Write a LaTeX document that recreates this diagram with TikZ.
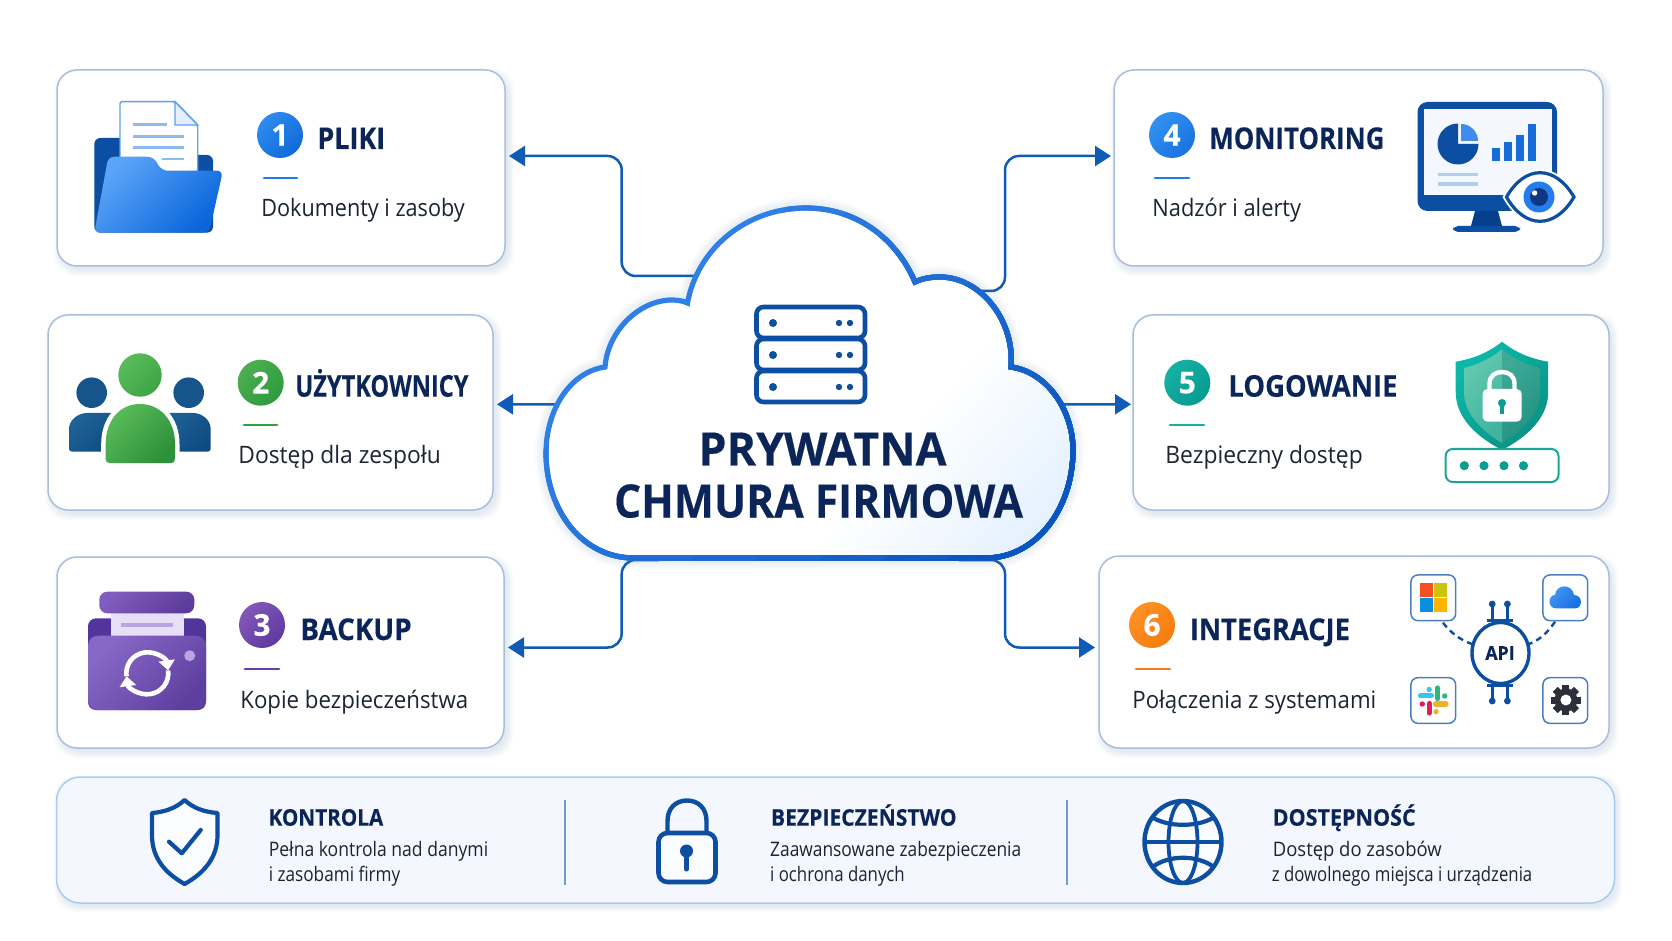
\documentclass[tikz,border=0pt]{standalone}
\usepackage{fontspec}
\usepackage{graphicx}
\setmainfont{Open Sans}[BoldFeatures={FakeBold=0.3}]
\usetikzlibrary{arrows.meta,calc}
\newdimen\pxu \pxu=0.5pt
\newdimen\tpx \tpx=0.506pt
\newcommand{\tw}[2]{\resizebox{#1\tpx}{\height}{#2}}
\definecolor{navy}{HTML}{0B2559}
\definecolor{ink}{HTML}{1B2433}
\definecolor{wire}{HTML}{0F5BB5}
\definecolor{royal}{HTML}{0B4EA2}
\definecolor{cardline}{HTML}{A9BEDC}
\definecolor{shadowc}{HTML}{5F82B5}
\definecolor{cloudA}{HTML}{2F80E6}
\definecolor{cloudB}{HTML}{0A56BE}
\definecolor{cloudE}{HTML}{DFEEFF}
\definecolor{teal}{HTML}{0C9C90}
\definecolor{tile}{HTML}{4A80C0}
\definecolor{paperline}{HTML}{5BA0EE}
\definecolor{fold}{HTML}{E4EEFC}
\definecolor{docline}{HTML}{8DBBF0}
\definecolor{fldA}{HTML}{5BA5F8}
\definecolor{fldB}{HTML}{0B66DC}
\definecolor{b1A}{HTML}{2F8BEF}
\definecolor{b1B}{HTML}{0F6AD8}
\definecolor{rule1}{HTML}{1F7AE2}
\definecolor{usrH}{HTML}{18548C}
\definecolor{usrA}{HTML}{1F6296}
\definecolor{usrB}{HTML}{0E4B82}
\definecolor{grnA}{HTML}{5BBB5A}
\definecolor{grnB}{HTML}{2C913A}
\definecolor{grnC}{HTML}{3CA546}
\definecolor{b2A}{HTML}{4CAF50}
\definecolor{b2B}{HTML}{2E9B3F}
\definecolor{rule2}{HTML}{2EA03F}
\definecolor{prpD}{HTML}{52359A}
\definecolor{prpP}{HTML}{E7DEF7}
\definecolor{prpL}{HTML}{B8A5E2}
\definecolor{lidA}{HTML}{7F5DBE}
\definecolor{lidB}{HTML}{5D3C9E}
\definecolor{frA}{HTML}{8868C6}
\definecolor{frB}{HTML}{5E3FA0}
\definecolor{b3A}{HTML}{8257BA}
\definecolor{b3B}{HTML}{5F3AA0}
\definecolor{rule3}{HTML}{643EAF}
\definecolor{scr}{HTML}{F4F8FE}
\definecolor{stand}{HTML}{06408C}
\definecolor{pieL}{HTML}{3F8CEC}
\definecolor{bars}{HTML}{186CD8}
\definecolor{mline}{HTML}{B0CEF0}
\definecolor{iris}{HTML}{247DEA}
\definecolor{pupil}{HTML}{103882}
\definecolor{b4A}{HTML}{3291F0}
\definecolor{b4B}{HTML}{1973E1}
\definecolor{shA}{HTML}{0AB9AA}
\definecolor{shB}{HTML}{0A9185}
\definecolor{inA}{HTML}{64C8AF}
\definecolor{inB}{HTML}{41B4A0}
\definecolor{inC}{HTML}{3EAA96}
\definecolor{inD}{HTML}{249182}
\definecolor{pwd}{HTML}{1BA596}
\definecolor{b5A}{HTML}{16B0A5}
\definecolor{b5B}{HTML}{079A90}
\definecolor{rule5}{HTML}{14B0A5}
\definecolor{msR}{HTML}{F25022}
\definecolor{msY}{HTML}{CDC30A}
\definecolor{msB}{HTML}{0A8FE0}
\definecolor{msO}{HTML}{FFB400}
\definecolor{icA}{HTML}{469BF5}
\definecolor{icB}{HTML}{196EE1}
\definecolor{slB}{HTML}{36C5F0}
\definecolor{slG}{HTML}{2EB67D}
\definecolor{slR}{HTML}{E01E5A}
\definecolor{slY}{HTML}{ECB22E}
\definecolor{gearc}{HTML}{2A2F3A}
\definecolor{b6A}{HTML}{FF9123}
\definecolor{b6B}{HTML}{F57C10}
\definecolor{rule6}{HTML}{F57C1E}
\definecolor{barline}{HTML}{A8CBF0}
\definecolor{barfill}{HTML}{F4F8FE}
\definecolor{divc}{HTML}{6E9BD4}
\definecolor{icnfill}{HTML}{FAFCFF}
\pgfdeclarehorizontalshading{cloudsh}{100bp}{color(0bp)=(white); color(62bp)=(white); color(84bp)=(cloudE); color(100bp)=(cloudE)}
\def\cloudpath{(634,558) .. controls (582,558) and (546,510) .. (546,453) .. controls (546,410) and (570,372) .. (605,367) .. controls (608,330) and (640,300) .. (672,300) .. controls (678,300) and (683,301) .. (687.5,303) .. controls (697,250) and (745,208) .. (806,208) .. controls (858,208) and (897,240) .. (915,282) .. controls (923,278) and (932,277) .. (940,277) .. controls (980,277) and (1015,320) .. (1011,367) .. controls (1047,372) and (1073,410) .. (1073,450) .. controls (1073,510) and (1035,558) .. (986,558) -- cycle}
\newcommand{\softshadow}[4]{\foreach \i in {0,...,6}{\fill[shadowc,opacity=.022,rounded corners=11pt] (#1-\i+3,#2-\i+4) rectangle (#3+\i+3,#4+\i+4);}}
\tikzset{
  card/.style={draw=cardline,line width=.75pt,fill=white,rounded corners=10pt,inner sep=0pt,outer sep=0pt},
  conn/.style={draw=wire,line width=1.25pt,rounded corners=7pt,-{Triangle[length=8pt,width=10pt]}},
  gr/.style 2 args={top color=#1,bottom color=#2,shading angle=45},
  ttl/.style={anchor=base west,inner sep=0pt,xshift=-1pt,text=navy,font=\fontsize{15}{15}\selectfont\bfseries},
  subt/.style={anchor=base west,inner sep=0pt,xshift=-.5pt,yshift=-.5pt,text=ink,font=\fontsize{12}{12}\selectfont},
  btt/.style={anchor=base west,inner sep=0pt,xshift=-.7pt,text=navy,font=\fontsize{11.5}{11.5}\selectfont\bfseries},
  bsub/.style={anchor=base west,inner sep=0pt,xshift=-.6pt,text=ink,font=\fontsize{10}{10}\selectfont},
  num/.style={inner sep=0pt,text=white,font=\fontsize{15}{15}\selectfont\bfseries},
  rule/.style={line width=1.35pt,line cap=round},
  tilebox/.style={draw=tile,line width=.75pt,fill=white,rounded corners=3.5pt},
  pill/.style={line width=2.6pt,line cap=round},
  big/.style={text=navy,inner sep=0pt,anchor=base,font=\fontsize{23}{23}\selectfont\bfseries},
}
\begin{document}
\begin{tikzpicture}[x=0.5pt,y=-0.5pt]
\useasboundingbox (0,0) rectangle (1672,941);
\fill[white] (0,0) rectangle (1672,941);

% shadows
\softshadow{57}{70}{505}{266}
\softshadow{48}{315}{493}{510}
\softshadow{57}{557}{504}{748}
\softshadow{1114}{70}{1603}{266}
\softshadow{1133}{315}{1609}{510}
\softshadow{1099}{556}{1609}{748}
\softshadow{57}{777}{1613}{902}

% cards
\node[card,minimum width=448\pxu,minimum height=196\pxu] (b1) at (281,168) {};
\node[card,minimum width=445\pxu,minimum height=195\pxu] (b2) at (270.5,412.5) {};
\node[card,minimum width=447\pxu,minimum height=191\pxu] (b3) at (280.5,652.5) {};
\node[card,minimum width=489\pxu,minimum height=196\pxu] (b4) at (1358.5,168) {};
\node[card,minimum width=476\pxu,minimum height=195\pxu] (b5) at (1371,412.5) {};
\node[card,minimum width=510\pxu,minimum height=192\pxu] (b6) at (1354,652) {};
\node[draw=none,inner sep=0pt,minimum width=530\pxu,minimum height=351\pxu] (cloud) at (809,382.5) {};

% connector ends
\coordinate (a1) at ($(b1.east)+(4,-12)$);
\coordinate (a2) at ($(b2.east)+(4,-8.2)$);
\coordinate (a3) at ($(b3.east)+(4,-5)$);
\coordinate (a4) at ($(b4.west)+(-3,-12)$);
\coordinate (a5) at ($(b5.west)+(-2,-8.2)$);
\coordinate (a6) at ($(b6.west)+(-4,-4.5)$);
\coordinate (c1) at ($(cloud.center)+(-105,-106.5)$);
\coordinate (c2) at ($(cloud.center)+(-200,21.8)$);
\coordinate (c3) at ($(cloud.center)+(-150,177.5)$);
\coordinate (c4) at ($(cloud.center)+(165,-91.5)$);
\coordinate (c5) at ($(cloud.center)+(200,21.8)$);
\coordinate (c6) at ($(cloud.center)+(150,177.5)$);
\coordinate (e1) at (621.7,156);
\coordinate (e3) at (621.7,647.5);
\coordinate (e4) at (1005,156);
\coordinate (e6) at (1005,647.5);

% connectors
\draw[conn] (c1) -| (e1) -- (a1);
\draw[conn] (c2) -- (a2);
\draw[conn] (c3) -| (e3) -- (a3);
\draw[conn] (c4) -| (e4) -- (a4);
\draw[conn] (c5) -- (a5);
\draw[conn] (c6) -| (e6) -- (a6);

% cloud
\foreach \w in {22,18,14,10}{\draw[shadowc,opacity=.03,line width=\w\pxu,line join=round] \cloudpath;}
\path[shading=cloudsh,shading angle=-40] \cloudpath;
\foreach \k in {0,...,9}{
  \pgfmathtruncatemacro{\p}{\k*11}
  \pgfmathsetmacro{\s}{930+64*\k}
  \begin{scope}
    \clip (\s-100,100) -- (\s-700,700) -- (1900,700) -- (1900,100) -- cycle;
    \draw[cloudB!\p!cloudA,line width=2.6pt,line join=miter] \cloudpath;
  \end{scope}
}
% server
\foreach \yy in {305,337,369}{
  \draw[royal,line width=2.3pt,fill=white,rounded corners=3.5pt] (756.5,\yy+2) rectangle (865,\yy+33);
  \fill[royal] (773,\yy+18) circle[radius=4];
  \fill[royal] (839,\yy+18) circle[radius=3.2];
  \fill[royal] (850,\yy+18) circle[radius=3.2];
}
\node[big] (title1) at (822.5,465.5) {\tw{245}{PRYWATNA}};
\node[big] (title2) at (818.5,517.5) {\tw{404}{CHMURA FIRMOWA}};

% ---------- Card 1: folder
\fill[royal,rounded corners=3pt] (94.3,232.7) -- (94.3,138) -- (130,138) -- (130,155) -- (213,155) -- (213,232.7) -- cycle;
\draw[paperline,line width=.7pt,fill=white,rounded corners=1pt] (120,172) -- (120,101.7) -- (175,101.7) -- (197.7,125) -- (197.7,172) -- cycle;
\draw[paperline,line width=.7pt,fill=fold] (175,101.7) -- (197.7,125) -- (175,125) -- cycle;
\foreach \xa/\xb/\yy in {133.3/166.7/124.3,133/184.3/136.7,133/184.3/147.7,161.7/184.3/159}{
  \draw[docline,line width=1.3pt] (\xa,\yy) -- (\xb,\yy);
}
\path[gr={fldA}{fldB},rounded corners=3pt] (94.3,232.7) -- (108.3,156.7) -- (153.3,156.7) -- (161.7,170.7) -- (223,170.7) -- (209,232.7) -- cycle;
\path[gr={b1A}{b1B}] (280,135) circle[radius=23];
\node[num] (n1) at (280,135) {1};
\node[ttl] (t1) at (319,149) {\tw{67}{PLIKI}};
\draw[rule,rule1] (264,178) -- (297,178);
\node[subt] (s1) at (262,215.7) {\tw{201}{Dokumenty i zasoby}};

% ---------- Card 2: users
\fill[usrH] (91.7,392.7) circle[radius=15.3];
\fill[usrH] (188.7,392.7) circle[radius=15.3];
\path[gr={usrA}{usrB},rounded corners=1.5pt] (69,451.7) -- (69,432) .. controls (69,420) and (78,413) .. (90,413) -- (120,413) -- (120,451.7) -- cycle;
\path[gr={usrA}{usrB},rounded corners=1.5pt] (210.7,451.7) -- (210.7,432) .. controls (210.7,420) and (202,413) .. (190,413) -- (160,413) -- (160,451.7) -- cycle;
\draw[white,line width=4.5pt,fill=white] (105.7,459) -- (105.7,444) .. controls (105.7,420) and (120,404) .. (140,404) .. controls (160,404) and (175,420) .. (175,444) -- (175,463) -- (105.7,463) -- cycle;
\path[gr={grnA}{grnB}] (105.7,459) -- (105.7,444) .. controls (105.7,420) and (120,404) .. (140,404) .. controls (160,404) and (175,420) .. (175,444) -- (175,459) .. controls (175,462) and (173,463) .. (171,463) -- (110,463) .. controls (107,463) and (105.7,462) .. (105.7,459) -- cycle;
\path[gr={grnA}{grnC}] (140,375) circle[radius=21.7];
\path[gr={b2A}{b2B}] (260.7,382.7) circle[radius=23];
\node[num] (n2) at (260.7,382.7) {2};
\node[ttl] (t2) at (297,396.7) {\tw{171}{UŻYTKOWNICY}};
\draw[rule,rule2] (244,425) -- (277,425);
\node[subt] (s2) at (239,463) {\tw{200}{Dostęp dla zespołu}};

% ---------- Card 3: backup box
\fill[prpD,rounded corners=4pt] (88,710) -- (88,618.3) -- (206,618.3) -- (206,710) -- cycle;
\fill[prpP] (110.7,612) rectangle (184.3,640);
\fill[prpL] (120.7,622.7) rectangle (172.7,627);
\path[gr={lidA}{lidB},rounded corners=4pt] (99.3,613.3) -- (99.3,591.7) -- (194.3,591.7) -- (194.3,613.3) -- cycle;
\path[gr={frA}{frB},rounded corners=5pt] (88,710) -- (88,635.7) -- (206,635.7) -- (206,710) -- cycle;
\fill[prpL] (189.7,655.7) circle[radius=5.5];
\draw[white,line width=2.3pt,-{Triangle[length=5pt,width=8pt]}] ($(147.3,673.3)+(172:21)$) arc[start angle=172,end angle=352,radius=21];
\draw[white,line width=2.3pt,-{Triangle[length=5pt,width=8pt]}] ($(147.3,673.3)+(-8:21)$) arc[start angle=-8,end angle=172,radius=21];
\path[gr={b3A}{b3B}] (262,625) circle[radius=23];
\node[num] (n3) at (262,625) {3};
\node[ttl] (t3) at (302,640) {\tw{110}{BACKUP}};
\draw[rule,rule3] (245,669) -- (279,669);
\node[subt] (s3) at (241,707) {\tw{225}{Kopie bezpieczeństwa}};

% ---------- Card 4: monitor
\fill[royal,rounded corners=5pt] (1417.5,102) rectangle (1557,211);
\fill[scr] (1424,109) rectangle (1552,195);
\fill[stand] (1475,211) -- (1498,211) -- (1502,226) -- (1471,226) -- cycle;
\fill[royal,rounded corners=2.5pt] (1453,226) rectangle (1520,232);
\fill[royal] (1458,144) -- (1478.5,144) arc[start angle=0,end angle=270,radius=20.5] -- cycle;
\fill[pieL] (1461,141) -- (1461,124) arc[start angle=270,end angle=360,radius=17] -- cycle;
\foreach \xa/\xb/\yt in {1491.5/1499.5/147.7,1503.6/1511.5/141.7,1516/1523.6/134.7,1528/1536/124.3}{
  \fill[bars] (\xa,\yt) rectangle (\xb,161);
}
\foreach \yy in {174.7,184}{\draw[mline,line width=1.7pt] (1437.5,\yy) -- (1478,\yy);}
\draw[white,line width=3.5pt,fill=white] (1506.5,197) .. controls (1525,164.6) and (1555,164.6) .. (1574,197) .. controls (1555,229.4) and (1525,229.4) .. (1506.5,197) -- cycle;
\draw[royal,line width=1.6pt,fill=white] (1506.5,197) .. controls (1525,164.6) and (1555,164.6) .. (1574,197) .. controls (1555,229.4) and (1525,229.4) .. (1506.5,197) -- cycle;
\fill[iris] (1539,197) circle[radius=15.5];
\fill[pupil] (1539,197) circle[radius=9];
\fill[white] (1534.6,193) circle[radius=2.7];
\path[gr={b4A}{b4B}] (1172,135) circle[radius=23];
\node[num] (n4) at (1172,135) {4};
\node[ttl] (t4) at (1211,149) {\tw{173}{MONITORING}};
\draw[rule,rule1] (1155,178) -- (1189,178);
\node[subt] (s4) at (1153,215.7) {\tw{147}{Nadzór i alerty}};

% ---------- Card 5: shield + password
\begin{scope}[xshift=1pt]
\path[gr={shA}{shB}] (1500,341.7) .. controls (1486,353) and (1470,359) .. (1453.7,361.7) -- (1453.7,392) .. controls (1453.7,418) and (1475,437) .. (1500,450) .. controls (1525,437) and (1546.2,418) .. (1546.2,392) -- (1546.2,361.7) .. controls (1530,359) and (1514,353) .. (1500,341.7) -- cycle;
\path[gr={inA}{inB}] (1500,349.3) .. controls (1488,359) and (1475,365) .. (1462,368) -- (1462,392) .. controls (1462,414) and (1480,431) .. (1500,443) -- cycle;
\path[gr={inC}{inD}] (1500,349.3) .. controls (1512,359) and (1525,365) .. (1538,368) -- (1538,392) .. controls (1538,414) and (1520,431) .. (1500,443) -- cycle;
\draw[white,line width=2.2pt] (1487.5,392) -- (1487.5,384) .. controls (1487.5,376) and (1493,372) .. (1500,372) .. controls (1507,372) and (1512.5,376) .. (1512.5,384) -- (1512.5,392);
\fill[white,rounded corners=2.5pt] (1480.5,389) rectangle (1519.7,421.7);
\fill[teal] (1500,403) circle[radius=4];
\fill[teal] (1498,403) rectangle (1502,414);
\draw[pwd,line width=1pt,fill=white,rounded corners=3.5pt] (1443.7,449) rectangle (1556.5,482);
\foreach \xx in {1462.3,1482,1502,1521.5}{\fill[teal] (\xx,465.7) circle[radius=4.6];}
\end{scope}
\path[gr={b5A}{b5B}] (1187.3,382.7) circle[radius=23];
\node[num] (n5) at (1187.3,382.7) {5};
\node[ttl] (t5) at (1230,396.7) {\tw{167}{LOGOWANIE}};
\draw[rule,rule5] (1170,425) -- (1204,425);
\node[subt] (s5) at (1166,463) {\tw{195}{Bezpieczny dostęp}};

% ---------- Card 6: API
\draw[royal,line width=1.2pt,dash pattern=on 3pt off 2.2pt] (1443,622.7) .. controls (1450,632) and (1460,640) .. (1472,644);
\draw[royal,line width=1.2pt,dash pattern=on 3pt off 2.2pt] (1555,621.7) .. controls (1548,632) and (1540,640) .. (1529,644);
\foreach \xx in {1492.2,1507.4}{
  \draw[royal,line width=1.5pt] (\xx,620) -- (\xx,604);
  \fill[royal] (\xx,604) circle[radius=3.4];
  \draw[royal,line width=1.5pt] (\xx,686) -- (\xx,701);
  \fill[royal] (\xx,701) circle[radius=3.4];
}
\draw[royal,line width=1.7pt] (1487,620.5) -- (1513,620.5);
\draw[royal,line width=1.7pt] (1487,685.5) -- (1513,685.5);
\draw[royal,line width=1.7pt,fill=white] (1500.5,653) ellipse[x radius=28.5,y radius=30.5];
\node[inner sep=0pt,text=navy,font=\fontsize{9.5}{9.5}\selectfont\bfseries] (api) at (1500,653) {\tw{29}{API}};
\node[tilebox,minimum width=44.7\pxu,minimum height=45.7\pxu,inner sep=0pt] (ms) at (1433.3,597.8) {};
\node[tilebox,minimum width=44.7\pxu,minimum height=45.7\pxu,inner sep=0pt] (cl) at (1565.3,597.8) {};
\node[tilebox,minimum width=44.7\pxu,minimum height=45.7\pxu,inner sep=0pt] (sl) at (1433.3,700.5) {};
\node[tilebox,minimum width=44.7\pxu,minimum height=45.7\pxu,inner sep=0pt] (ge) at (1565.3,700.5) {};
\fill[msR] (1419.5,583.3) rectangle (1432.6,596.7);
\fill[msY] (1433.6,583.3) rectangle (1446.7,596.7);
\fill[msB] (1419.5,598.3) rectangle (1432.6,611.7);
\fill[msO] (1433.6,598.3) rectangle (1446.7,611.7);
\path[gr={icA}{icB}] (1556,608.3) .. controls (1547,608.3) and (1548,595) .. (1555,595) .. controls (1556,584) and (1572,583) .. (1574,595) .. controls (1583,595) and (1583,608.3) .. (1575,608.3) -- cycle;
\draw[pill,slB] (1420.5,695.7) -- (1431.5,695.7);
\fill[slB] (1429.2,689.5) circle[radius=2.7];
\draw[pill,slG] (1437.8,688) -- (1437.8,698.5);
\fill[slG] (1444.7,696) circle[radius=2.7];
\draw[pill,slR] (1429.2,703.5) -- (1429.2,713);
\fill[slR] (1422.3,704) circle[radius=2.7];
\draw[pill,slY] (1435.5,704) -- (1446,704);
\fill[slY] (1436,711.7) circle[radius=2.7];
\foreach \a in {0,45,...,315}{
  \fill[gearc,rotate around={\a:(1565.9,700)}] (1562.4,685) rectangle (1569.4,692);
}
\fill[gearc] (1565.9,700) circle[radius=11.5];
\fill[white] (1565.9,700) circle[radius=5.5];
\path[gr={b6A}{b6B}] (1152,625) circle[radius=23];
\node[num] (n6) at (1152,625) {6};
\node[ttl] (t6) at (1191.6,640) {\tw{158}{INTEGRACJE}};
\draw[rule,rule6] (1136,669) -- (1170,669);
\node[subt] (s6) at (1133,707) {\tw{241}{Połączenia z systemami}};

% ---------- Bottom bar
\node[draw=barline,line width=.75pt,fill=barfill,rounded corners=12pt,inner sep=0pt,minimum width=1558\pxu,minimum height=126\pxu] (bar) at (835.5,840) {};
\draw[divc,line width=1pt] (564.5,800) -- (564.5,885);
\draw[divc,line width=1pt] (1067,800) -- (1067,885);
% shield
\draw[royal,line width=2.1pt,line join=round,fill=icnfill] (184.6,800) .. controls (176,808) and (165,812) .. (152,813) -- (152,835) .. controls (152,858) and (165,873) .. (184.6,884) .. controls (204,873) and (217.5,858) .. (217.5,835) -- (217.5,813) .. controls (204,812) and (193,808) .. (184.6,800) -- cycle;
\draw[royal,line width=2.1pt,line cap=round,line join=round] (169,841.7) -- (181.8,853.3) -- (200.7,830);
\node[btt] (k1) at (269.6,825.7) {\tw{113.3}{KONTROLA}};
\node[bsub] (k2) at (269.6,856) {\tw{216.8}{Pełna kontrola nad danymi}};
\node[bsub] (k3) at (269.6,881.7) {\tw{130}{i zasobami firmy}};
% lock
\draw[royal,line width=2.2pt] (667.5,833) -- (667.5,821) .. controls (667.5,808) and (676,800.5) .. (687,800.5) .. controls (698,800.5) and (706.5,808) .. (706.5,821) -- (706.5,833);
\draw[royal,line width=2.3pt,rounded corners=4.5pt,fill=icnfill] (658.5,833) rectangle (715.5,882);
\fill[royal] (686.5,851) circle[radius=6.5];
\draw[royal,line width=2.5pt,line cap=round] (686.5,851) -- (686.5,869);
\node[btt] (k4) at (772,825.7) {\tw{183.4}{BEZPIECZEŃSTWO}};
\node[bsub] (k5) at (771,856) {\tw{248}{Zaawansowane zabezpieczenia}};
\node[bsub] (k6) at (771,881.7) {\tw{133}{i ochrona danych}};
% globe
\draw[royal,line width=2.2pt,fill=icnfill] (1183,842) ellipse[x radius=38.5,y radius=41];
\draw[royal,line width=1.9pt] (1183,842) ellipse[x radius=14.5,y radius=41];
\draw[royal,line width=2.1pt] (1145,841.7) -- (1221,841.7);
\draw[royal,line width=2.1pt] (1153.8,818.3) .. controls (1170,827) and (1196,827) .. (1212.4,818.3);
\draw[royal,line width=2.1pt] (1153.8,866) .. controls (1170,855) and (1196,855) .. (1212.4,866);
\node[btt] (k7) at (1273.7,825.7) {\tw{141.3}{DOSTĘPNOŚĆ}};
\node[bsub] (k8) at (1273.7,856) {\tw{166.8}{Dostęp do zasobów}};
\node[bsub] (k9) at (1272.7,881.7) {\tw{257.3}{z dowolnego miejsca i urządzenia}};
\end{tikzpicture}
\end{document}
